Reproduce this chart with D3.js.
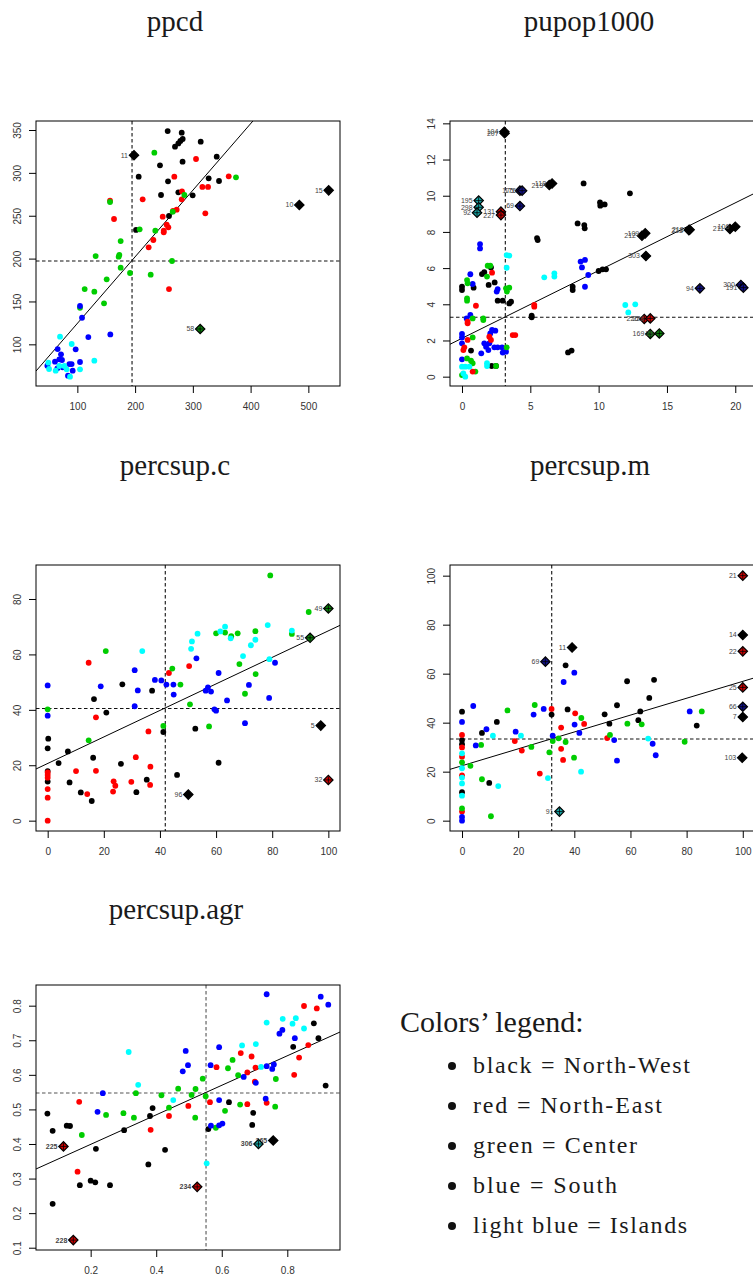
<!DOCTYPE html>
<html>
<head>
<meta charset="utf-8">
<script src="https://cdn.jsdelivr.net/npm/d3@7"></script>
<style>
body { margin: 0; background: #fff; }
svg { display: block; }
</style>
</head>
<body>
<svg id="fig" width="753" height="1276"></svg>
<script>
// regions and the colour R used for each of them (default palette)
var regions = ["North-West", "North-East", "Center", "South", "Islands"];
var regionColors = ["#000000", "#ff0000", "#00cd00", "#0000ff", "#00ffff"];
var regionFills = ["#000000", "#d40000", "#0a8a0a", "#12128c", "#16a8a8"];
var legendNames = ["black", "red", "green", "blue", "light blue"];

// ---- ppcd ----  [x, y, region]
var ppcdPoints = [
  [256.4,348.8,0],[280.7,346.9,0],[313.6,336.4,0],[282.4,339.5,0],[278.4,337.2,0],[274.9,334.4,0],[269.1,330.6,0],
  [341.3,318.9,0],[282.2,313.1,0],[243.1,308.8,0],[206.2,295.6,0],[257.0,290.1,0],[327.4,293.6,0],[345.3,290.5,0],
  [274.9,277.3,0],[244.9,274.2,0],[299.7,273.8,0],[258.7,249.7,0],[201.6,233.4,0],
  [305.5,316.2,1],[362.1,296.0,1],[267.9,295.6,1],[316.5,283.6,1],[326.3,283.6,1],[281.2,278.5,1],[156.6,267.6,1],
  [213.1,269.1,1],[280.7,269.1,1],[321.6,252.8,1],[272.0,257.1,1],[265.7,255.5,1],[163.5,246.2,1],[247.8,248.9,1],
  [254.7,239.6,1],[257.6,236.5,1],[249.6,232.6,1],[249.6,230.6,1],[231.6,221.7,1],[223.5,213.1,1],[258.7,164.5,1],
  [233.3,323.6,2],[374.7,294.8,2],[156.6,266.0,2],[285.3,274.2,2],[265.1,254.7,2],[207.9,234.1,2],[235.0,232.6,2],
  [175.0,220.5,2],[131.7,203.0,2],[172.7,204.2,2],[171.5,202.2,2],[175.0,189.4,2],[263.9,197.2,2],[191.2,183.2,2],
  [227.0,181.2,2],[150.8,175.8,2],[112.7,164.5,2],[129.4,161.4,2],[146.2,147.8,2],[104.6,142.7,2],
  [104.6,144.7,3],[108.1,131.0,3],[119.0,108.5,3],[157.1,111.6,3],[65.9,94.5,3],[97.1,94.2,3],[71.7,88.4,3],
  [61.3,79.8,3],[68.8,82.5,3],[73.4,81.7,3],[104.6,79.4,3],[48.1,75.1,3],[86.1,77.0,3],[90.1,77.0,3],
  [74.5,73.2,3],[91.9,69.3,3],[83.8,63.5,3],[65.4,72.0,3],
  [70.0,108.9,4],[90.2,100.4,4],[49.8,78.6,4],[51.0,71.2,4],[62.5,69.3,4],[77.5,74.7,4],[81.5,70.8,4],
  [104.6,70.8,4],[129.4,80.9,4],[87.3,62.3,4],[68.8,74.7,4]
];
var ppcdOutliers = [[198.1,320.5,0,"11"],[484.4,262.5,0,"10"],[535.2,279.6,0,"15"],[312.7,117.9,2,"58"]];
var ppcdFit = [46.75, 0.7766];
var ppcdMeans = [194.7, 197.2];
var ppcdXTicks = [100, 200, 300, 400, 500];
var ppcdYTicks = [100, 150, 200, 250, 300, 350];

// ---- pupop1000 ----
var pupopPoints = [
  [0,4.97,0],[0,4.79,0],[0.85,4.92,0],[0.66,1.44,0],[1.46,5.67,0],[1.63,5.77,0],[2.12,6.04,0],[1.95,5.07,0],
  [2.39,5.21,0],[2.61,4.20,0],[2.98,4.20,0],[3.46,4.05,0],[3.59,4.14,0],[2.17,0.59,0],[2.49,0.59,0],
  [5.10,3.28,0],[5.10,3.37,0],[5.49,7.66,0],[5.54,7.55,0],[7.76,1.34,0],[8.02,1.44,0],[8.10,4.97,0],
  [8.10,4.79,0],[8.46,8.47,0],[8.95,8.38,0],[8.98,8.20,0],[8.90,10.68,0],[10.10,9.63,0],[10.44,9.52,0],
  [10.12,9.45,0],[10.0,5.84,0],[10.29,5.93,0],[10.54,5.93,0],[12.29,10.13,0],
  [1.32,7.33,3],[1.32,7.09,3],[0.61,5.66,3],[0.78,5.12,3],[0.61,3.41,3],[0.34,3.22,3],[0,2.36,3],[0,2.17,3],
  [0,1.84,3],[0,0.96,3],[2.61,4.84,3],[2.54,4.70,3],[2.20,2.58,3],[2.44,2.54,3],[2.07,2.39,3],[1.76,1.66,3],
  [2.0,1.84,3],[1.63,1.84,3],[1.93,1.47,3],[2.37,1.62,3],[2.61,1.62,3],[2.93,1.62,3],[2.98,1.33,3],
  [3.22,1.38,3],[1.41,1.29,3],[8.68,6.36,3],[9.0,6.45,3],[8.78,6.04,3],[9.24,5.62,3],[9.0,4.97,3],
  [0.37,5.34,2],[0.41,5.16,2],[0.37,4.33,2],[0.37,4.20,2],[0.78,3.22,2],[0.78,2.17,2],[0,0.09,2],
  [0.37,1.01,2],[0.66,0.88,2],[0.78,0.74,2],[0.98,0.28,2],[1.56,3.22,2],[1.56,3.13,2],[1.88,6.13,2],
  [2.07,6.13,2],[1.83,5.53,2],[3.22,4.88,2],[3.46,4.92,2],[3.29,4.70,2],[3.27,1.62,2],[2.49,0.59,2],
  [1.02,3.92,1],[0.41,2.95,1],[0.41,3.04,1],[0.41,2.03,1],[0.1,1.47,1],[0.17,1.62,1],[2.0,2.21,1],
  [2.12,2.03,1],[2.20,5.75,1],[3.71,2.30,1],[3.90,2.30,1],[5.29,3.87,1],[5.29,3.96,1],[0.78,0.28,1],
  [0,0.55,4],[0.24,0.55,4],[0.54,0.55,4],[0.1,0.18,4],[0.24,0,4],[1.83,0.74,4],[1.83,0.59,4],[3.27,6.72,4],
  [3.46,6.69,4],[3.27,6.02,4],[6.02,5.49,4],[6.76,5.71,4],[6.76,5.53,4],[11.95,3.96,4],[12.68,4.0,4],
  [12.17,3.55,4]
];
var pupopOutliers = [
  [3.10,13.54,0,"104"],[3.12,13.45,0,"207"],[6.39,10.59,0,"219"],[6.59,10.68,0,"118"],
  [13.17,7.79,0,"212"],[13.41,7.92,0,"109"],[13.46,6.67,0,"303"],[16.60,8.10,0,"213"],[16.66,8.12,0,"218"],
  [19.61,8.16,0,"211"],[20.0,8.29,0,"106"],[4.24,10.28,3,"175"],[4.40,10.28,3,"176"],[4.24,9.43,3,"69"],
  [17.41,4.88,3,"94"],[20.41,5.07,3,"300"],[20.59,4.92,3,"191"],[1.22,9.73,4,"195"],[1.22,9.36,4,"298"],
  [1.10,9.06,4,"92"],[2.85,9.12,1,"131"],[2.85,8.93,1,"227"],[13.34,3.19,1,"226"],[13.78,3.22,1,"228"],
  [13.78,2.36,2,"169"],[14.44,2.39,2,"29"]
];
var pupopFit = [2.12, 0.3743];
var pupopMeans = [3.17, 3.28];
var pupopXTicks = [0, 5, 10, 15, 20];
var pupopYTicks = [0, 2, 4, 6, 8, 10, 12, 14];

// ---- percsup.c ----
var supcPoints = [
  [0.2,29.6,0],[0,26.1,0],[0,17.9,0],[0,14.1,0],[3.9,20.8,0],[7.2,25.0,0],[7.8,13.8,0],[11.8,10.2,0],
  [15.7,7.1,0],[16.2,22.7,0],[16.5,43.9,0],[20.9,39.0,0],[26.6,49.2,0],[26.1,20.5,0],[31.6,10.3,0],
  [35.3,14.8,0],[37.2,46.9,0],[41.2,32.0,0],[46.1,16.5,0],[52.6,33.2,0],[60.9,20.9,0],
  [0,17.4,1],[0,16.5,1],[0,15.5,1],[0,11.4,1],[0,8.3,1],[0,0,1],[10.1,17.9,1],[14.1,9.6,1],[14.6,57.0,1],
  [17.2,37.3,1],[17.2,18.0,1],[23.5,14.2,1],[24.1,12.6,1],[23.3,10.5,1],[29.8,14.0,1],[31.4,22.9,1],
  [35.9,32.2,1],[36.6,19.5,1],[36.5,12.9,1],[43.2,53.3,1],[50.4,55.8,1],
  [0,40.2,2],[14.6,29.0,2],[20.7,61.2,2],[41.2,34.2,2],[44.4,54.9,2],[47.3,49.1,2],[50.7,42.0,2],
  [57.5,34.0,2],[60.0,67.6,2],[63.2,67.9,2],[65.4,66.6,2],[67.7,67.6,2],[68.3,56.5,2],[70.3,45.8,2],
  [74.0,68.4,2],[74.1,52.9,2],[79.3,88.5,2],[87.0,67.4,2],[93.0,75.3,2],
  [0,48.8,3],[0,37.9,3],[18.9,48.5,3],[31.0,54.3,3],[31.0,41.3,3],[32.1,47.0,3],[38.2,50.8,3],
  [40.5,50.6,3],[42.3,49.1,3],[44.8,49.1,3],[44.9,45.5,3],[53.0,58.6,3],[56.3,46.9,3],[57.1,48.1,3],
  [58.2,46.6,3],[59.4,40.2,3],[60.0,39.7,3],[60.9,53.3,3],[63.9,43.4,3],[70.3,35.2,3],[71.7,49.0,3],
  [78.9,44.3,3],[81.0,57.0,3],
  [33.7,61.2,4],[51.1,62.0,4],[51.4,64.7,4],[53.4,67.5,4],[61.5,68.3,4],[63.2,70.0,4],[65.2,65.8,4],
  [69.6,59.4,4],[72.4,63.3,4],[74.0,65.3,4],[78.4,70.6,4],[79.0,58.3,4],[87.0,68.6,4]
];
var supcOutliers = [[50.1,9.4,0,"96"],[97.3,34.3,0,"5"],[100,76.6,2,"49"],[93.5,66.0,2,"55"],[100,14.7,1,"32"]];
var supcFit = [20.64, 0.4787];
var supcMeans = [41.9, 40.5];
var supcXTicks = [0, 20, 40, 60, 80, 100];
var supcYTicks = [0, 20, 40, 60, 80];

// ---- percsup.m ----
var supmPoints = [
  [0,44.5,0],[0,32.9,0],[0,31.2,0],[0,11.6,0],[7.1,35.8,0],[9.7,15.4,0],[12.4,40.3,0],[31.9,43.3,0],
  [36.9,63.4,0],[37.6,45.4,0],[50.8,43.4,0],[52.5,39.6,0],[55.2,47.1,0],[58.8,56.9,0],[62.8,41.0,0],
  [63.5,44.6,0],[66.7,50.1,0],[68.4,57.5,0],[83.6,38.8,0],
  [0,35.0,1],[0,29.9,1],[0,26.1,1],[0,18.5,1],[0,3.7,1],[18.8,32.5,1],[21.3,28.6,1],[27.7,19.2,1],
  [31.9,45.6,1],[35.3,38.0,1],[35.3,29.3,1],[36.0,24.8,1],[40.3,43.8,1],[43.5,39.5,1],[51.7,33.7,1],
  [0,23.8,2],[0,5.0,2],[3.0,22.4,2],[6.8,30.9,2],[7.1,16.9,2],[10.3,1.8,2],[16.2,45.0,2],[24.7,30.1,2],
  [25.9,47.2,2],[31.1,27.9,2],[32.3,32.5,2],[34.4,33.6,2],[36.9,32.1,2],[39.9,25.7,2],[42.5,41.9,2],
  [52.7,35.0,2],[58.9,39.6,2],[64.0,39.3,2],[79.3,32.2,2],[85.4,44.6,2],
  [0,40.3,3],[0,1.5,3],[0,0,3],[4.0,46.8,3],[4.9,30.7,3],[8.7,37.3,3],[19.1,36.3,3],[25.5,43.3,3],
  [29.1,45.6,3],[32.3,34.7,3],[36.2,56.6,3],[40.0,60.4,3],[40.1,39.2,3],[41.8,35.8,3],[54.2,32.9,3],
  [55.2,24.5,3],[67.9,31.4,3],[69.0,26.7,3],[81.1,44.6,3],
  [0,27.5,4],[0,21.4,4],[0,17.6,4],[0,15.2,4],[0,10.2,4],[11.0,34.7,4],[12.9,14.1,4],[21.0,34.7,4],
  [30.6,17.4,4],[42.4,20.0,4],[66.3,33.5,4]
];
var supmOutliers = [
  [39.2,70.7,0,"11"],[100,75.8,0,"14"],[100,42.3,0,"7"],[99.8,25.7,0,"103"],[100,100,1,"21"],
  [100,69.1,1,"22"],[100,54.4,1,"25"],[29.7,64.9,3,"69"],[100,46.5,3,"66"],[34.7,3.7,4,"91"]
];
var supmFit = [22.42, 0.3444];
var supmMeans = [31.95, 33.3];
var supmXTicks = [0, 20, 40, 60, 80, 100];
var supmYTicks = [0, 20, 40, 60, 80, 100];

// ---- percsup.agr ----
var supaPoints = [
  [0.068,0.488,0],[0.084,0.438,0],[0.084,0.227,0],[0.127,0.453,0],[0.137,0.452,0],[0.167,0.281,0],
  [0.200,0.294,0],[0.214,0.289,0],[0.259,0.281,0],[0.216,0.386,0],[0.302,0.440,0],[0.376,0.341,0],
  [0.381,0.481,0],[0.389,0.504,0],[0.427,0.383,0],[0.559,0.443,0],[0.622,0.521,0],[0.693,0.455,0],
  [0.696,0.490,0],[0.818,0.681,0],[0.881,0.749,0],[0.895,0.706,0],[0.917,0.569,0],
  [0.165,0.522,1],[0.160,0.320,1],[0.383,0.441,1],[0.439,0.481,1],[0.498,0.510,1],[0.564,0.521,1],
  [0.584,0.622,1],[0.658,0.663,1],[0.678,0.515,1],[0.678,0.607,1],[0.691,0.653,1],[0.701,0.580,1],
  [0.703,0.621,1],[0.737,0.519,1],[0.821,0.600,1],[0.836,0.650,1],[0.851,0.799,1],[0.864,0.686,1],
  [0.890,0.792,1],
  [0.173,0.426,2],[0.247,0.484,2],[0.300,0.489,2],[0.332,0.476,2],[0.338,0.547,2],[0.416,0.541,2],
  [0.439,0.505,2],[0.467,0.560,2],[0.508,0.542,2],[0.520,0.559,2],[0.519,0.476,2],[0.542,0.589,2],
  [0.551,0.538,2],[0.582,0.447,2],[0.610,0.496,2],[0.619,0.619,2],[0.633,0.643,2],[0.650,0.599,2],
  [0.656,0.514,2],[0.765,0.588,2],[0.763,0.508,2],
  [0.221,0.493,3],[0.237,0.547,3],[0.481,0.610,3],[0.490,0.669,3],[0.497,0.628,3],[0.566,0.628,3],
  [0.567,0.453,3],[0.592,0.527,3],[0.592,0.680,3],[0.592,0.454,3],[0.602,0.459,3],[0.667,0.594,3],
  [0.704,0.577,3],[0.734,0.531,3],[0.737,0.833,3],[0.737,0.625,3],[0.754,0.617,3],[0.759,0.630,3],
  [0.776,0.719,3],[0.785,0.730,3],[0.823,0.706,3],[0.902,0.826,3],[0.925,0.803,3],
  [0.316,0.666,4],[0.345,0.571,4],[0.452,0.527,4],[0.554,0.344,4],[0.662,0.685,4],[0.704,0.689,4],
  [0.720,0.623,4],[0.737,0.751,4],[0.786,0.762,4],[0.816,0.748,4],[0.826,0.764,4],[0.851,0.734,4]
];
var supaOutliers = [[0.757,0.410,0,"265"],[0.117,0.393,1,"225"],[0.147,0.122,1,"228"],[0.525,0.276,1,"234"],[0.712,0.400,4,"306"]];
var supaFit = [0.3135, 0.427];
var supaMeans = [0.552, 0.5474];
var supaXTicks = [0.2, 0.4, 0.6, 0.8];
var supaYTicks = [0.1, 0.2, 0.3, 0.4, 0.5, 0.6, 0.7, 0.8];

var svg = d3.select("#fig");
var serif = "'Liberation Serif', 'DejaVu Serif', serif";
var sans = "'Liberation Sans', Arial, sans-serif";

function panel(p) {
  var g = svg.append("g").attr("transform", "translate(" + p.left + "," + p.top + ")");
  var x = d3.scaleLinear().domain(p.xDomain).range([0, p.w]);
  var y = d3.scaleLinear().domain(p.yDomain).range([p.h, 0]);

  svg.append("text")
    .attr("x", p.titleX).attr("y", p.titleY)
    .attr("text-anchor", "middle")
    .style("font-family", serif).style("font-size", "29px")
    .attr("fill", "#1a1a1a")
    .text(p.title);

  g.append("clipPath").attr("id", "clip-" + p.id)
    .append("rect").attr("width", p.w).attr("height", p.h);
  var inner = g.append("g").attr("clip-path", "url(#clip-" + p.id + ")");

  // means
  inner.append("line")
    .attr("x1", x(p.means[0])).attr("x2", x(p.means[0]))
    .attr("y1", 0).attr("y2", p.h)
    .attr("stroke", p.dashColor).attr("stroke-width", 1.1).attr("stroke-dasharray", "3.5,2.5");
  inner.append("line")
    .attr("x1", 0).attr("x2", p.w)
    .attr("y1", y(p.means[1])).attr("y2", y(p.means[1]))
    .attr("stroke", p.dashColor).attr("stroke-width", 1.1).attr("stroke-dasharray", "3.5,2.5");

  // regression line
  var x0 = p.xDomain[0], x1 = p.xDomain[1];
  inner.append("line")
    .attr("x1", x(x0)).attr("y1", y(p.fit[0] + p.fit[1] * x0))
    .attr("x2", x(x1)).attr("y2", y(p.fit[0] + p.fit[1] * x1))
    .attr("stroke", "#000").attr("stroke-width", 1);

  inner.selectAll("circle.pt")
    .data(p.points)
    .join("circle")
    .attr("class", "pt")
    .attr("cx", function(d) { return x(d[0]); })
    .attr("cy", function(d) { return y(d[1]); })
    .attr("r", 2.9)
    .attr("fill", function(d) { return regionColors[d[2]]; });

  // outlying provinces
  var diamond = d3.symbol().type(d3.symbolSquare).size(44);
  var out = inner.selectAll("g.out")
    .data(p.outliers)
    .join("g")
    .attr("class", "out")
    .attr("transform", function(d) { return "translate(" + x(d[0]) + "," + y(d[1]) + ")"; });
  out.append("path")
    .attr("d", diamond)
    .attr("transform", "rotate(45)")
    .attr("fill", function(d) { return regionFills[d[2]]; })
    .attr("stroke", "#000").attr("stroke-width", 1.2);
  out.append("path")
    .attr("d", "M-3.5,0H3.5M0,-3.5V3.5")
    .attr("stroke", "#000").attr("stroke-width", 0.8);
  out.append("text")
    .attr("x", -6).attr("dy", "0.35em")
    .attr("text-anchor", "end")
    .style("font-family", sans).style("font-size", "7px")
    .style("font-weight", p.boldLabels ? "bold" : "normal")
    .attr("fill", "#444")
    .text(function(d) { return d[3]; });

  g.append("rect")
    .attr("width", p.w).attr("height", p.h)
    .attr("fill", "none").attr("stroke", "#000").attr("stroke-width", 1);

  var xa = g.append("g")
    .attr("transform", "translate(0," + p.h + ")")
    .call(d3.axisBottom(x).tickValues(p.xTicks).tickSize(7).tickPadding(10)
      .tickFormat(function(d) { return String(d); }));
  var ya = g.append("g")
    .call(d3.axisLeft(y).tickValues(p.yTicks).tickSize(7)
      .tickFormat(function(d) { return String(d); }));
  [xa, ya].forEach(function(a) {
    a.select(".domain").remove();
    a.selectAll("line").attr("stroke", "#000");
    a.selectAll("text").style("font-family", sans).style("font-size", "10px").attr("fill", "#333");
  });
  ya.selectAll("text")
    .attr("x", null).attr("dy", "0.35em")
    .attr("text-anchor", "middle")
    .attr("transform", "translate(-19,0) rotate(-90)");
}

panel({ id: "ppcd", title: "ppcd", titleX: 175, titleY: 31,
  left: 36, top: 121, w: 304, h: 265, xDomain: [28.4, 554.8], yDomain: [51.4, 360.5],
  points: ppcdPoints, outliers: ppcdOutliers, fit: ppcdFit, means: ppcdMeans,
  xTicks: ppcdXTicks, yTicks: ppcdYTicks, dashColor: "#111" });

panel({ id: "pupop", title: "pupop1000", titleX: 589, titleY: 31,
  left: 450, top: 121, w: 304, h: 265, xDomain: [-0.878, 21.37], yDomain: [-0.516, 14.13],
  points: pupopPoints, outliers: pupopOutliers, fit: pupopFit, means: pupopMeans,
  xTicks: pupopXTicks, yTicks: pupopYTicks, dashColor: "#111" });

panel({ id: "supc", title: "percsup.c", titleX: 175, titleY: 475,
  left: 36, top: 565, w: 304, h: 266, xDomain: [-4.16, 104.15], yDomain: [-3.73, 92.27],
  points: supcPoints, outliers: supcOutliers, fit: supcFit, means: supcMeans,
  xTicks: supcXTicks, yTicks: supcYTicks, dashColor: "#111" });

panel({ id: "supm", title: "percsup.m", titleX: 590, titleY: 475,
  left: 450, top: 565, w: 304, h: 266, xDomain: [-4.28, 104.0], yDomain: [-4.22, 104.35],
  points: supmPoints, outliers: supmOutliers, fit: supmFit, means: supmMeans,
  xTicks: supmXTicks, yTicks: supmYTicks, dashColor: "#111" });

panel({ id: "supa", title: "percsup.agr", titleX: 176, titleY: 919,
  left: 36, top: 985, w: 304, h: 265, xDomain: [0.0332, 0.9608], yDomain: [0.0934, 0.8598],
  points: supaPoints, outliers: supaOutliers, fit: supaFit, means: supaMeans,
  xTicks: supaXTicks, yTicks: supaYTicks, dashColor: "#555", boldLabels: true });

// legend of the colours
var legendWidths = [217, 189, 164, 144, 214];
svg.append("text")
  .attr("x", 400).attr("y", 1032)
  .style("font-family", serif).style("font-size", "30px")
  .attr("fill", "#1a1a1a")
  .text("Colors\u2019 legend:");
var items = svg.selectAll("g.item")
  .data(regions)
  .join("g")
  .attr("class", "item")
  .attr("transform", function(d, i) { return "translate(0," + (1073 + 40 * i) + ")"; });
items.append("circle").attr("cx", 452).attr("cy", -7).attr("r", 4).attr("fill", "#111");
items.append("text")
  .attr("x", 473)
  .attr("textLength", function(d, i) { return legendWidths[i]; })
  .attr("lengthAdjust", "spacing")
  .style("font-family", serif).style("font-size", "24px")
  .attr("fill", "#1a1a1a")
  .text(function(d, i) { return legendNames[i] + " = " + d; });
</script>
</body>
</html>
